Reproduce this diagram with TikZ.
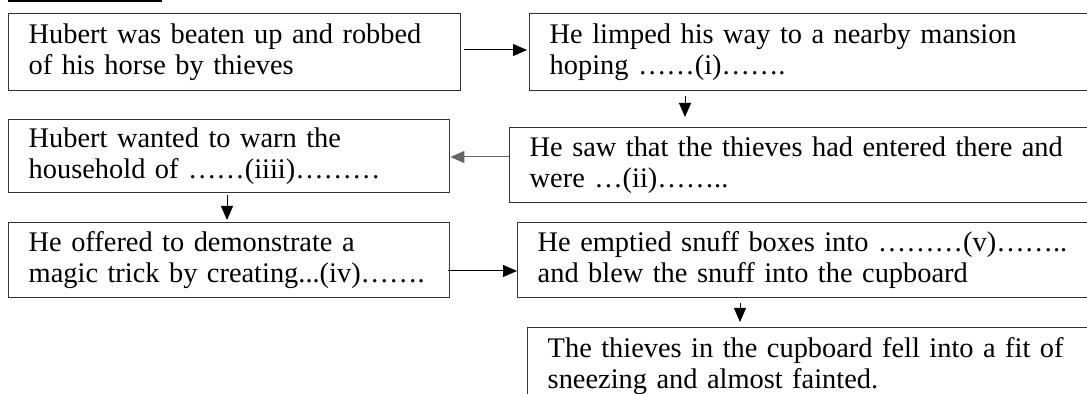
\documentclass[tikz,border=0pt]{standalone}
\usepackage{fontspec}
\setmainfont{Liberation Serif}
\usetikzlibrary{arrows.meta}

\tikzset{
  box/.style={draw=black!80, line width=0.7pt, anchor=north west, align=left,
    inner xsep=10pt, inner ysep=0pt, text width=#1,
    font=\fontsize{14.2}{15.5}\selectfont},
  arr/.style={-{Triangle[length=7pt,width=6pt]}, line width=0.5pt},
}

\begin{document}
\begin{tikzpicture}[x=0.5pt,y=-0.5pt]

\useasboundingbox (0,0) rectangle (1087,394) ;

\fill (8,0) rectangle (162,2.5) ;

\node[box=206pt, minimum height=38.5pt] (b1) at (8,13) {Hubert was beaten up and robbed\\of his horse by thieves} ;
\node[box=263pt, minimum height=38.5pt] (b2) at (529,13) {He limped his way to a nearby mansion\\hoping ……(i)…….} ;
\node[box=273pt, minimum height=37.5pt] (b3) at (509,127) {He saw that the thieves had entered there and\\were …(ii)……..} ;
\node[box=200.5pt, minimum height=36.5pt] (b4) at (8,119) {Hubert wanted to warn the\\household of ……(iiii)………} ;
\node[box=200.5pt, minimum height=37.5pt] (b5) at (8,222) {He offered to demonstrate a\\\mbox{magic trick by creating...(iv)…….}} ;
\node[box=269pt, minimum height=37.5pt] (b6) at (517,222) {\mbox{He emptied snuff boxes into ………(v)……..}\\and blew the snuff into the cupboard} ;
\node[box=264pt, minimum height=38.5pt] (b7) at (527,327) {The thieves in the cupboard fell into a fit of\\sneezing and almost fainted.} ;

\coordinate (c1) at (0,50) ;
\coordinate (c2) at (685,0) ;
\coordinate (c3) at (0,157) ;
\coordinate (c4) at (227,0) ;
\coordinate (c5) at (0,271) ;
\coordinate (c6) at (740,0) ;

\draw[arr, shorten <=1.5pt, shorten >=1pt] (b1.east |- c1) -- (b2.west |- c1) ;
\draw[arr, shorten <=2.5pt, shorten >=5pt] (b2.south -| c2) -- (b3.north -| c2) ;
\draw[arr, draw=black!60, fill=black] (b3.west |- c3) -- (b4.east |- c3) ;
\draw[arr, shorten <=1pt, shorten >=1pt] (b4.south -| c4) -- (b5.north -| c4) ;
\draw[arr, shorten <=-1pt] (b5.east |- c5) -- (b6.west |- c5) ;
\draw[arr, shorten <=2.5pt, shorten >=2.5pt] (b6.south -| c6) -- (b7.north -| c6) ;

\end{tikzpicture}
\end{document}
